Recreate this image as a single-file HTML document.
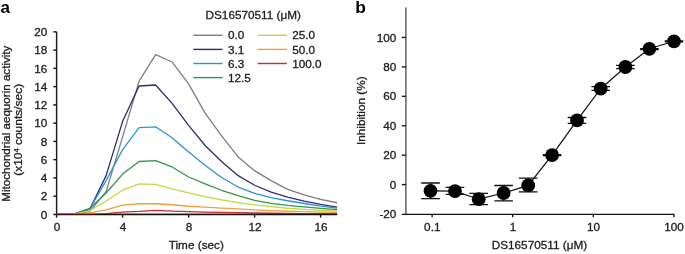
<!DOCTYPE html><html><head><meta charset="utf-8"><style>html,body{margin:0;padding:0;background:#fff;width:685px;height:254px;overflow:hidden}svg{display:block;will-change:transform}text{font-family:"Liberation Sans",sans-serif;fill:#1c1c1c;stroke:#1c1c1c;stroke-width:0.3px}</style></head><body>
<svg width="685" height="254" viewBox="0 0 685 254">
<rect width="685" height="254" fill="#fff"/>
<text x="0.4" y="13" font-size="17" font-weight="bold" style="fill:#000;stroke:none">a</text>
<text x="355.2" y="12.8" font-size="17.4" font-weight="bold" style="fill:#000;stroke:none">b</text>
<g stroke="#1a1a1a" stroke-width="1.45" fill="none">
<path d="M56.6 31.85V214.45H337.10"/>
<path d="M53.30 214.45H56.6"/>
<path d="M53.30 196.19H56.6"/>
<path d="M53.30 177.93H56.6"/>
<path d="M53.30 159.67H56.6"/>
<path d="M53.30 141.41H56.6"/>
<path d="M53.30 123.15H56.6"/>
<path d="M53.30 104.89H56.6"/>
<path d="M53.30 86.63H56.6"/>
<path d="M53.30 68.37H56.6"/>
<path d="M53.30 50.11H56.6"/>
<path d="M53.30 31.85H56.6"/>
<path d="M56.60 214.45V217.64999999999998"/>
<path d="M122.60 214.45V217.64999999999998"/>
<path d="M188.60 214.45V217.64999999999998"/>
<path d="M254.60 214.45V217.64999999999998"/>
<path d="M320.60 214.45V217.64999999999998"/>
</g>
<text transform="translate(47.30,218.75) scale(1.033,1)" font-size="11.4" text-anchor="end">0</text>
<text transform="translate(47.30,200.49) scale(1.033,1)" font-size="11.4" text-anchor="end">2</text>
<text transform="translate(47.30,182.23) scale(1.033,1)" font-size="11.4" text-anchor="end">4</text>
<text transform="translate(47.30,163.97) scale(1.033,1)" font-size="11.4" text-anchor="end">6</text>
<text transform="translate(47.30,145.71) scale(1.033,1)" font-size="11.4" text-anchor="end">8</text>
<text transform="translate(47.30,127.45) scale(1.033,1)" font-size="11.4" text-anchor="end">10</text>
<text transform="translate(47.30,109.19) scale(1.033,1)" font-size="11.4" text-anchor="end">12</text>
<text transform="translate(47.30,90.93) scale(1.033,1)" font-size="11.4" text-anchor="end">14</text>
<text transform="translate(47.30,72.67) scale(1.033,1)" font-size="11.4" text-anchor="end">16</text>
<text transform="translate(47.30,54.41) scale(1.033,1)" font-size="11.4" text-anchor="end">18</text>
<text transform="translate(47.30,36.15) scale(1.033,1)" font-size="11.4" text-anchor="end">20</text>
<text transform="translate(57.00,230.80) scale(1.033,1)" font-size="11.4" text-anchor="middle">0</text>
<text transform="translate(123.00,230.80) scale(1.033,1)" font-size="11.4" text-anchor="middle">4</text>
<text transform="translate(189.00,230.80) scale(1.033,1)" font-size="11.4" text-anchor="middle">8</text>
<text transform="translate(255.00,230.80) scale(1.033,1)" font-size="11.4" text-anchor="middle">12</text>
<text transform="translate(321.00,230.80) scale(1.033,1)" font-size="11.4" text-anchor="middle">16</text>
<text transform="translate(196.30,248.80) scale(1.033,1)" font-size="11.4" text-anchor="middle">Time (sec)</text>
<text transform="translate(9.70,123.70) rotate(-90) scale(1.019,1)" font-size="11.4" text-anchor="middle">Mitochondrial aequorin activity</text>
<text transform="translate(21.90,129.80) rotate(-90) scale(1.052,1)" font-size="11.4" text-anchor="middle">(x10<tspan font-size="7" dy="-3.4">4</tspan><tspan dy="3.4"> counts/sec)</tspan></text>
<path d="M56.60 214.45 L73.10 214.45 L89.60 211.71 L106.10 191.62 L122.60 136.84 L139.10 81.15 L155.60 54.67 L172.10 61.98 L188.60 83.89 L205.10 113.11 L221.60 135.93 L238.10 156.93 L254.60 170.63 L271.10 180.67 L287.60 189.34 L304.10 194.82 L320.60 199.39 L337.10 202.76" fill="none" stroke="#7e7e7e" stroke-width="1.3" stroke-linejoin="round"/>
<path d="M56.60 214.45 L73.10 214.45 L89.60 209.43 L106.10 175.65 L122.60 121.32 L139.10 85.99 L155.60 84.99 L172.10 103.34 L188.60 125.43 L205.10 145.52 L221.60 161.50 L238.10 175.65 L254.60 185.23 L271.10 192.08 L287.60 197.10 L304.10 201.21 L320.60 204.41 L337.10 207.15" fill="none" stroke="#2c2c74" stroke-width="1.3" stroke-linejoin="round"/>
<path d="M56.60 214.45 L73.10 214.45 L89.60 209.15 L106.10 180.67 L122.60 149.63 L139.10 127.53 L155.60 126.80 L172.10 137.76 L188.60 151.91 L205.10 165.15 L221.60 177.47 L238.10 187.06 L254.60 193.45 L271.10 197.56 L287.60 200.75 L304.10 203.49 L320.60 206.05 L337.10 208.06" fill="none" stroke="#2f93cf" stroke-width="1.3" stroke-linejoin="round"/>
<path d="M56.60 214.45 L73.10 214.45 L89.60 208.42 L106.10 192.99 L122.60 174.10 L139.10 161.50 L155.60 160.58 L172.10 166.97 L188.60 177.02 L205.10 183.86 L221.60 190.26 L238.10 195.73 L254.60 200.30 L271.10 203.31 L287.60 205.32 L304.10 206.96 L320.60 208.42 L337.10 209.70" fill="none" stroke="#339452" stroke-width="1.3" stroke-linejoin="round"/>
<path d="M56.60 214.45 L73.10 214.45 L89.60 210.80 L106.10 201.03 L122.60 190.07 L139.10 183.96 L155.60 184.32 L172.10 188.89 L188.60 192.99 L205.10 196.65 L221.60 199.84 L238.10 202.58 L254.60 204.86 L271.10 206.69 L287.60 208.24 L304.10 209.43 L320.60 210.34 L337.10 211.16" fill="none" stroke="#c4d83c" stroke-width="1.3" stroke-linejoin="round"/>
<path d="M56.60 214.45 L73.10 214.45 L89.60 212.81 L106.10 209.98 L122.60 205.05 L139.10 203.77 L155.60 203.77 L172.10 204.77 L188.60 206.23 L205.10 207.15 L221.60 208.06 L238.10 208.97 L254.60 209.88 L271.10 210.62 L287.60 211.25 L304.10 211.71 L320.60 212.17 L337.10 212.44" fill="none" stroke="#eea040" stroke-width="1.3" stroke-linejoin="round"/>
<path d="M56.60 214.45 L73.10 214.45 L89.60 214.45 L106.10 213.72 L122.60 212.17 L139.10 211.44 L155.60 210.34 L172.10 211.16 L188.60 211.71 L205.10 212.08 L221.60 212.44 L238.10 212.72 L254.60 212.99 L271.10 213.26 L287.60 213.45 L304.10 213.63 L320.60 213.72 L337.10 213.81" fill="none" stroke="#c82a32" stroke-width="1.3" stroke-linejoin="round"/>
<path d="M94.55 214.45H337.10" stroke="#111" stroke-width="1.2" fill="none"/>
<path d="M55.90 214.45H94.55" stroke="#4a1216" stroke-width="1.3" fill="none"/>
<text transform="translate(253.25,18.65) scale(1.033,1)" font-size="11.4" text-anchor="middle">DS16570511 (μM)</text>
<path d="M193.30 35.30H222.60" stroke="#7e7e7e" stroke-width="1.4"/>
<text transform="translate(227.90,39.40) scale(1.033,1)" font-size="11.4" text-anchor="start">0.0</text>
<path d="M193.30 49.40H222.60" stroke="#2c2c74" stroke-width="1.4"/>
<text transform="translate(227.90,53.50) scale(1.033,1)" font-size="11.4" text-anchor="start">3.1</text>
<path d="M193.30 63.50H222.60" stroke="#2f93cf" stroke-width="1.4"/>
<text transform="translate(227.90,67.60) scale(1.033,1)" font-size="11.4" text-anchor="start">6.3</text>
<path d="M193.30 77.60H222.60" stroke="#339452" stroke-width="1.4"/>
<text transform="translate(227.90,81.70) scale(1.033,1)" font-size="11.4" text-anchor="start">12.5</text>
<path d="M257.60 35.30H286.90" stroke="#c4d83c" stroke-width="1.4"/>
<text transform="translate(292.20,39.40) scale(1.033,1)" font-size="11.4" text-anchor="start">25.0</text>
<path d="M257.60 49.40H286.90" stroke="#eea040" stroke-width="1.4"/>
<text transform="translate(292.20,53.50) scale(1.033,1)" font-size="11.4" text-anchor="start">50.0</text>
<path d="M257.60 63.50H286.90" stroke="#c82a32" stroke-width="1.4"/>
<text transform="translate(292.20,67.60) scale(1.033,1)" font-size="11.4" text-anchor="start">100.0</text>
<path d="M405.9 7.5V214.03" stroke="#555" stroke-width="1.4" fill="none"/>
<g stroke="#151515" stroke-width="1.35" fill="none">
<path d="M401.80 214.33H674.3"/>
<path d="M401.80 184.60H405.9"/>
<path d="M401.80 155.17H405.9"/>
<path d="M401.80 125.74H405.9"/>
<path d="M401.80 96.32H405.9"/>
<path d="M401.80 66.89H405.9"/>
<path d="M401.80 37.46H405.9"/>
<path d="M432.10 214.33V217.33"/>
<path d="M512.70 214.33V217.33"/>
<path d="M593.30 214.33V217.33"/>
<path d="M673.90 214.33V217.33"/>
</g>
<text transform="translate(396.40,218.13) scale(1.033,1)" font-size="11.4" text-anchor="end">-20</text>
<text transform="translate(396.40,188.70) scale(1.033,1)" font-size="11.4" text-anchor="end">0</text>
<text transform="translate(396.40,159.27) scale(1.033,1)" font-size="11.4" text-anchor="end">20</text>
<text transform="translate(396.40,129.84) scale(1.033,1)" font-size="11.4" text-anchor="end">40</text>
<text transform="translate(396.40,100.42) scale(1.033,1)" font-size="11.4" text-anchor="end">60</text>
<text transform="translate(396.40,70.99) scale(1.033,1)" font-size="11.4" text-anchor="end">80</text>
<text transform="translate(396.40,41.56) scale(1.033,1)" font-size="11.4" text-anchor="end">100</text>
<text transform="translate(432.30,230.70) scale(1.033,1)" font-size="11.4" text-anchor="middle">0.1</text>
<text transform="translate(512.90,230.70) scale(1.033,1)" font-size="11.4" text-anchor="middle">1</text>
<text transform="translate(593.50,230.70) scale(1.033,1)" font-size="11.4" text-anchor="middle">10</text>
<text transform="translate(674.10,230.70) scale(1.033,1)" font-size="11.4" text-anchor="middle">100</text>
<text transform="translate(539.40,248.90) scale(1.033,1)" font-size="11.4" text-anchor="middle">DS16570511 (μM)</text>
<text transform="translate(364.80,110.75) rotate(-90) scale(1.033,1)" font-size="11.4" text-anchor="middle">Inhibition (%)</text>
<path d="M430.5 190.8 L455.0 191.1 L478.7 199.2 L503.6 193.0 L528.2 185.4 L552.1 155.2 L577.0 120.4 L600.7 88.7 L625.4 67.0 L649.4 48.8 L674.0 41.3" fill="none" stroke="#111" stroke-width="1.2"/>
<g stroke="#111" stroke-width="1.3" fill="none">
<path d="M430.5 183.0V198.7M421.20 183.0H439.80M421.20 198.7H439.80"/>
<path d="M455.0 187.4V194.4M445.70 187.4H464.30M445.70 194.4H464.30"/>
<path d="M478.7 193.4V204.7M469.40 193.4H488.00M469.40 204.7H488.00"/>
<path d="M503.6 185.5V200.8M494.30 185.5H512.90M494.30 200.8H512.90"/>
<path d="M528.2 178.1V191.8M518.90 178.1H537.50M518.90 191.8H537.50"/>
<path d="M552.1 154.7V155.7M542.80 154.7H561.40M542.80 155.7H561.40"/>
<path d="M577.0 117.5V123.4M567.70 117.5H586.30M567.70 123.4H586.30"/>
<path d="M600.7 86.6V90.4M591.40 86.6H610.00M591.40 90.4H610.00"/>
<path d="M625.4 65.4V68.6M616.10 65.4H634.70M616.10 68.6H634.70"/>
<path d="M649.4 48.6V49.7M640.10 48.6H658.70M640.10 49.7H658.70"/>
<path d="M674.0 41.0V41.9M664.70 41.0H683.30M664.70 41.9H683.30"/>
</g>
<circle cx="430.5" cy="190.8" r="6.9" fill="#000"/>
<circle cx="455.0" cy="191.1" r="6.9" fill="#000"/>
<circle cx="478.7" cy="199.2" r="6.9" fill="#000"/>
<circle cx="503.6" cy="193.0" r="6.9" fill="#000"/>
<circle cx="528.2" cy="185.4" r="6.9" fill="#000"/>
<circle cx="552.1" cy="155.2" r="6.9" fill="#000"/>
<circle cx="577.0" cy="120.4" r="6.9" fill="#000"/>
<circle cx="600.7" cy="88.7" r="6.9" fill="#000"/>
<circle cx="625.4" cy="67.0" r="6.9" fill="#000"/>
<circle cx="649.4" cy="48.8" r="6.9" fill="#000"/>
<circle cx="674.0" cy="41.3" r="6.9" fill="#000"/>
</svg></body></html>
